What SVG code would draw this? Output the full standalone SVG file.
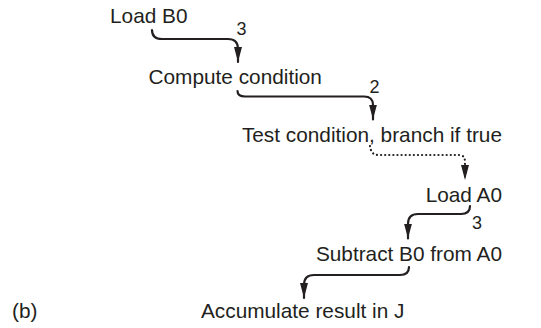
<svg xmlns="http://www.w3.org/2000/svg" width="541" height="328" viewBox="0 0 541 328">
<defs>
<style>
text{font-family:"Liberation Sans",Arial,sans-serif;font-size:20.8px;fill:#231f20}
.n{font-size:18px}
.c{fill:none;stroke:#231f20;stroke-width:2.2;stroke-linecap:round;stroke-linejoin:round}
.d{stroke-dasharray:0.1 4}
</style>
<marker id="ah" markerUnits="userSpaceOnUse" markerWidth="16" markerHeight="10" viewBox="0 -5 16 10" refX="15" refY="0" orient="auto">
<path d="M0,-4 L15,0 L0,4 Z" fill="#231f20"/>
</marker>
</defs>
<rect width="541" height="328" fill="#fff"/>
<g id="load-b0"><text x="110" y="22.5">Load B0</text></g>
<g id="compute"><text x="148.5" y="84">Compute condition</text></g>
<g id="test"><text x="502" y="142" text-anchor="end">Test condition, branch if true</text></g>
<g id="load-a0"><text x="502" y="201.5" text-anchor="end">Load A0</text></g>
<g id="subtract"><text x="502" y="261" text-anchor="end">Subtract B0 from A0</text></g>
<g id="accumulate"><text x="201" y="318">Accumulate result in J</text></g>
<g id="label-b"><text x="12" y="318">(b)</text></g>
<g id="connectors">
<path class="c" marker-end="url(#ah)" d="M152,30 Q152,39 162,39 L228,39 Q238,39 238,49 L238,62"/>
<path class="c" marker-end="url(#ah)" d="M237.5,91 Q237.5,96.5 245,96.5 L364,96.5 Q373,96.5 373,105 L373,119.5"/>
<path class="c d" marker-end="url(#ah)" d="M370,146 Q371,155 378,155 L459,155 Q465,155 465,162 L465,180"/>
<path class="c" marker-end="url(#ah)" d="M470,206 Q470,214 461,214 L418,214 Q408,214 408,224 L408,238.5"/>
<path class="c" marker-end="url(#ah)" d="M409,267 Q409,275 400,275 L314,275 Q304,275 304,285 L304,298"/>
<text class="n" x="236.5" y="34.5">3</text>
<text class="n" x="369.5" y="92.5">2</text>
<text class="n" x="472" y="228.5">3</text>
</g>
</svg>
